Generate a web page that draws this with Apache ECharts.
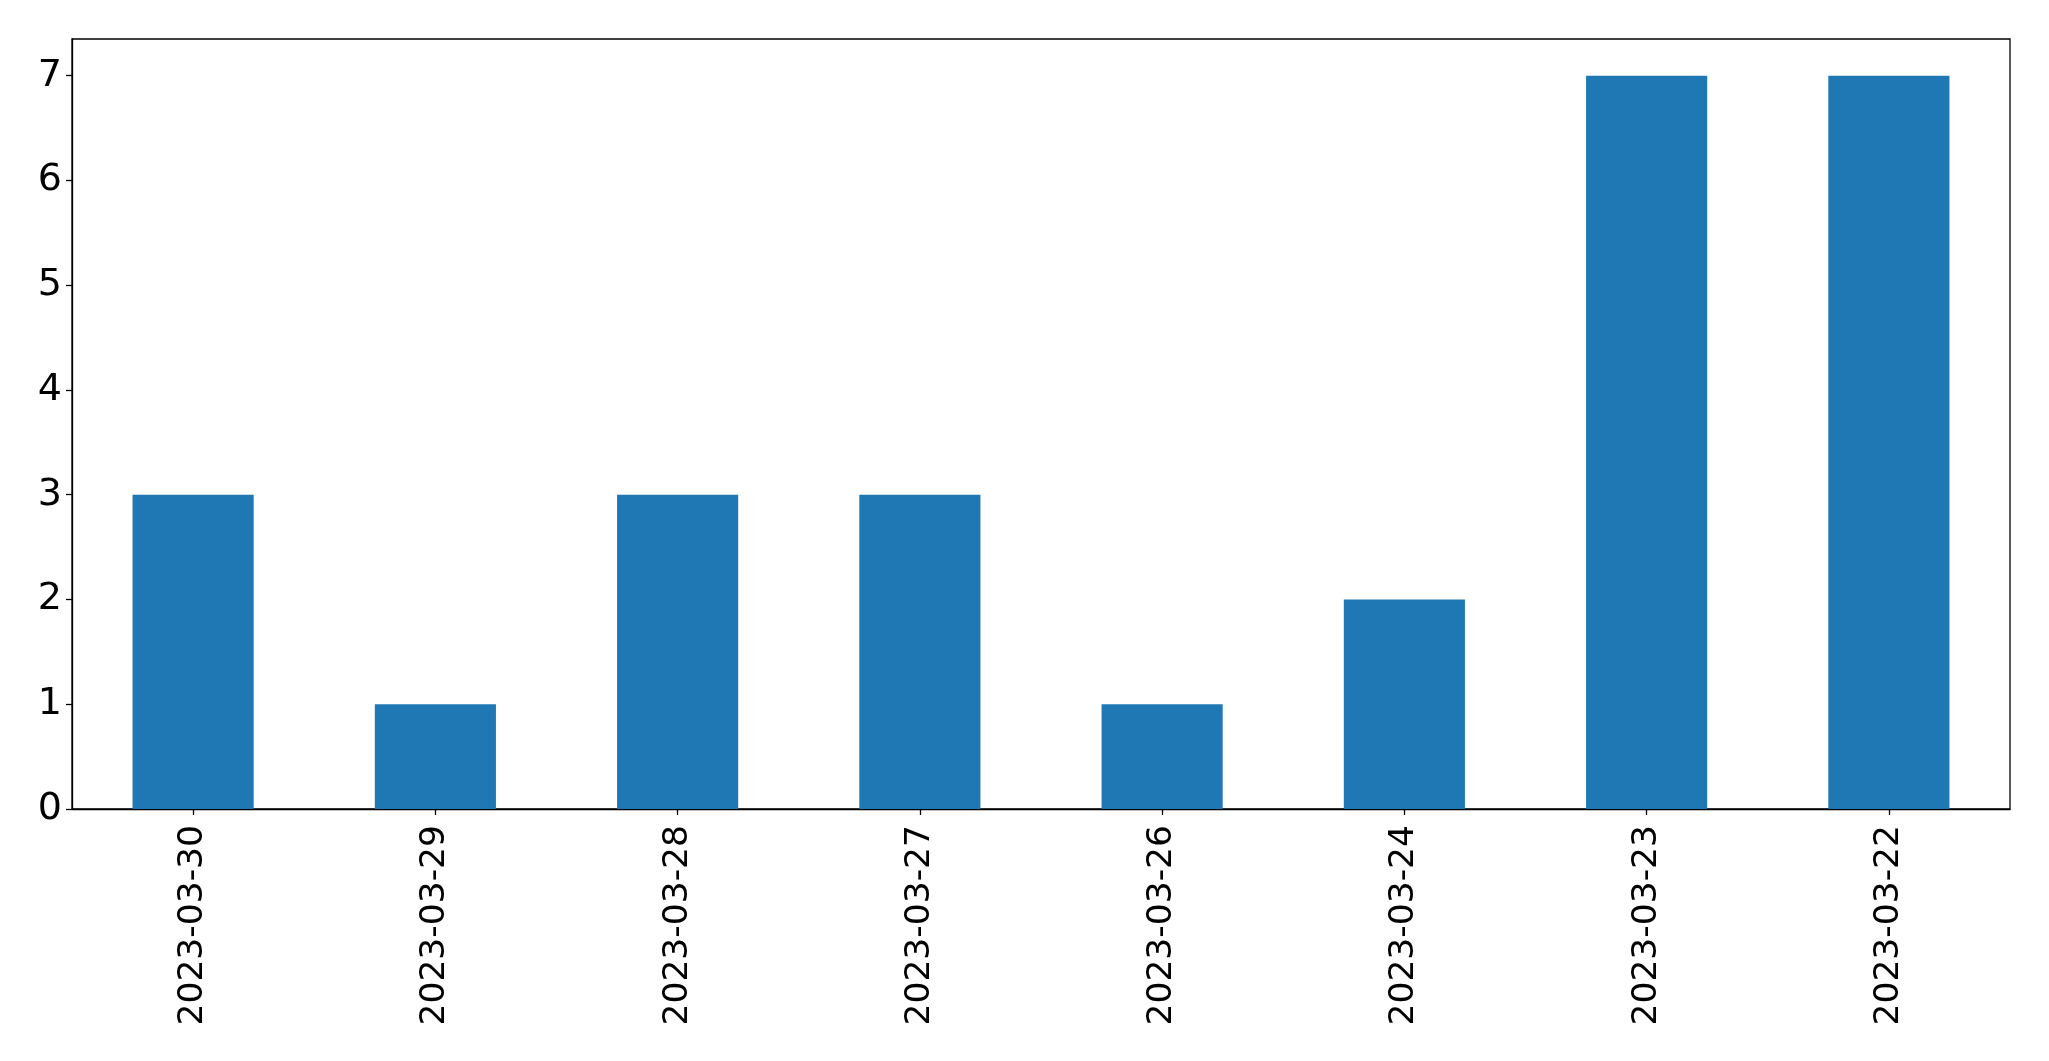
<!DOCTYPE html>
<html><head><meta charset="utf-8">
<script src="https://cdn.jsdelivr.net/npm/echarts@6/dist/echarts.min.js"></script>
<style>html,body{margin:0;padding:0;background:#fff}#c{width:2049px;height:1061px}</style>
</head><body><div id="c"></div>
<script>
const categories = ['2023-03-30','2023-03-29','2023-03-28','2023-03-27','2023-03-26','2023-03-24','2023-03-23','2023-03-22'];
const values = [3,1,3,3,1,2,7,7];
const yTicks = [0,1,2,3,4,5,6,7];

const chart = echarts.init(document.getElementById('c'), null, {renderer:'canvas'});
const font = 'DejaVu Sans';
chart.setOption({
  animation:false,
  backgroundColor:'#fff',
  grid:{left:72,right:39,top:39,bottom:252,show:true,borderColor:'#000',borderWidth:1.3,backgroundColor:'transparent'},
  xAxis:{
    type:'category',data:categories,boundaryGap:true,
    axisLine:{show:true,lineStyle:{color:'#000',width:1.3}},
    axisTick:{show:true,alignWithLabel:true,length:6,lineStyle:{color:'#000',width:1.3}},
    axisLabel:{rotate:90,margin:16,fontFamily:font,fontSize:34.5,color:'#000'},
    splitLine:{show:false}
  },
  yAxis:{
    type:'value',min:0,max:7.35,
    axisLine:{show:true,lineStyle:{color:'#000',width:1.3}},
    axisTick:{show:true,length:6,customValues:yTicks,lineStyle:{color:'#000',width:1.3}},
    axisLabel:{margin:10,fontFamily:font,fontSize:38,color:'#000',customValues:yTicks,verticalAlign:'middle',lineHeight:38,padding:[16,0,0,0]},
    splitLine:{show:false}
  },
  series:[{type:'bar',data:values,barWidth:'50%',itemStyle:{color:'#1f77b4'}}]
});
</script></body></html>
